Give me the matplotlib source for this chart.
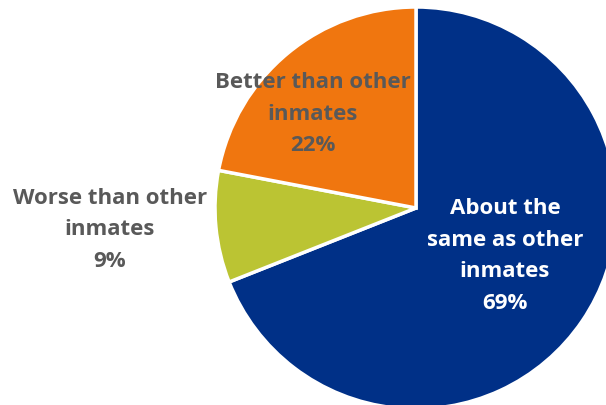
import matplotlib
matplotlib.use("Agg")
import matplotlib.pyplot as plt

categories = ["About the\nsame as other\ninmates", "Worse than other\ninmates", "Better than other\ninmates"]
values = [69, 9, 22]
colors = ["#003087", "#BBC433", "#F0760F"]
text_colors = ["white", "#595959", "#595959"]

# label centres in pixel coords (x, y from top)
label_pos = [(505, 256), (110, 230), (313, 114)]

W, H = 606, 406
fig = plt.figure(figsize=(W / 100, H / 100), dpi=100)
ax = fig.add_axes([0, 0, 1, 1])
cx, cy, r = 416, 209, 201
ax.pie(values, colors=colors, startangle=90, counterclock=False,
       center=(cx, H - cy), radius=r,
       wedgeprops=dict(edgecolor="white", linewidth=2.5), frame=True)
ax.set_xlim(0, W)
ax.set_ylim(0, H)
ax.set_aspect("equal")
ax.axis("off")

for cat, v, (x, y), tc in zip(categories, values, label_pos, text_colors):
    ax.text(x, H - y, f"{cat}\n{v}%", ha="center", va="center", color=tc,
            fontsize=16, fontweight="bold", family="Open Sans", linespacing=1.68)

fig.savefig("out.png", dpi=100)
